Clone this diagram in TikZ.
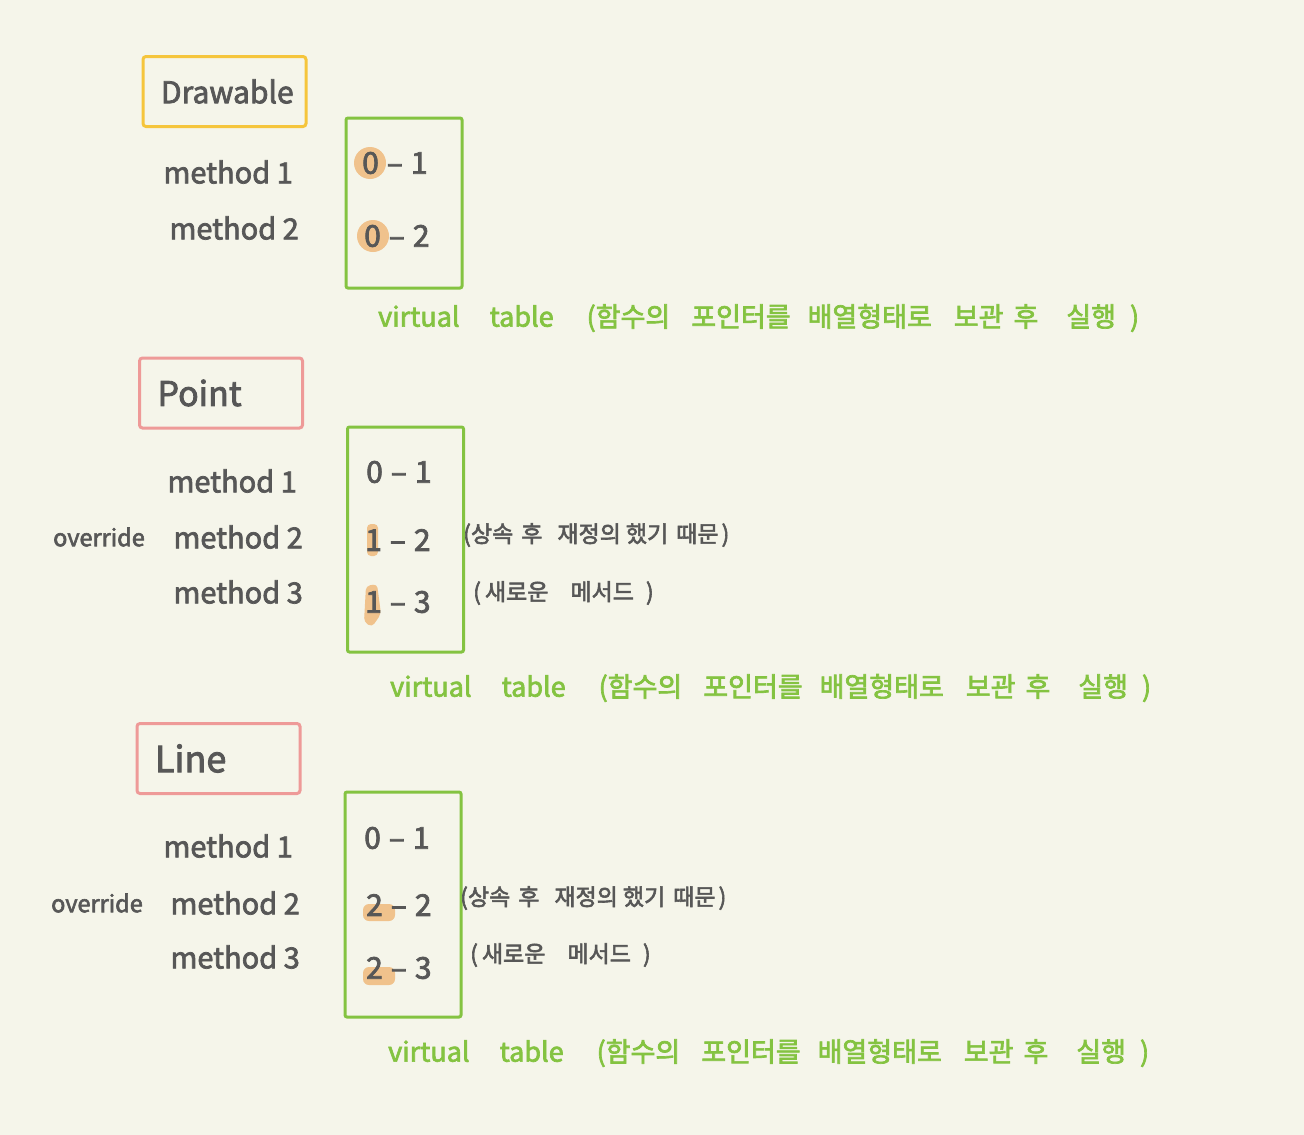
\documentclass[tikz,border=0pt]{standalone}
\usepackage{fontspec}
\setmainfont{Noto Sans CJK KR}[FakeBold=2.5]
\definecolor{bg}{HTML}{F5F5EA}
\definecolor{ink}{HTML}{575757}
\definecolor{yel}{HTML}{F5C53C}
\definecolor{pnk}{HTML}{EE9A98}
\definecolor{grn}{HTML}{84C341}
\definecolor{org}{HTML}{F0C28C}
\newcommand\vtext{virtual\hspace{30pt}table\hspace{33pt}(함수의\hspace{21pt}포인터를\hspace{17pt}배열형태로\hspace{22pt}보관\hspace{10pt}후\hspace{28pt}실행\hspace{14pt})}
\newcommand\ntwo{(상속\hspace{8pt}후\hspace{15pt}재정의\hspace{5pt}했기\hspace{8pt}때문\hspace{3pt})}
\newcommand\nthree{(\hspace{4pt}새로운\hspace{22pt}메서드\hspace{12pt})}
\newcommand\ent[2]{#1\hspace{8pt}–\hspace{8pt}#2}
\tikzset{
  cls/.style={draw=#1, line width=3pt, rounded corners=3pt, minimum height=70, inner xsep=18, text width=127, align=left, text=ink, font=\fontsize{31}{31}\selectfont},
  meth/.style={anchor=east, text=ink, inner sep=0, font=\fontsize{29}{29}\selectfont},
  ovr/.style={anchor=east, text=ink, inner sep=0, font=\fontsize{23.5}{23.5}\selectfont},
  vbox/.style={draw=grn, line width=3pt, rounded corners=2pt, minimum width=116, inner sep=0},
  entry/.style={anchor=west, text=ink, inner sep=0, font=\fontsize{30}{30}\selectfont},
  note/.style={anchor=west, text=ink, inner sep=0, font=\fontsize{23}{23}\selectfont},
  vt/.style={anchor=west, text=grn, inner sep=0, font=\fontsize{27}{27}\selectfont},
  hl/.style={fill=org}
}
\begin{document}
\begin{tikzpicture}[x=1pt,y=-1pt]
\fill[bg] (0,0) rectangle (1304,1135);
\useasboundingbox (0,0) rectangle (1304,1135);

% ---------- Drawable ----------
\node[cls=yel, font=\fontsize{30}{30}\selectfont] (drawable) at (224.5,91.5) {Drawable};
\node[meth] (d1) at (293,172) {method 1};
\node[meth] (d2) at (299,228) {method 2};
\node[vbox, minimum height=170] (dv) at (404,203) {};
\fill[hl] (370,163) circle (16);
\fill[hl] (373,236) circle (16);
\node[entry] (de1) at (362,163) {\ent{0}{1}};
\node[entry] (de2) at (364,236) {\ent{0}{2}};
\node[vt] (dvt) at (378,318) {\vtext};

% ---------- Point ----------
\node[cls=pnk, font=\fontsize{34}{34}\selectfont] (point) at (221,393) {Point};
\node[meth] (p1) at (297,481) {method 1};
\node[ovr] (po) at (145,537) {override};
\node[meth] (p2) at (303,537) {method 2};
\node[meth] (p3) at (303,592) {method 3};
\node[vbox, minimum height=225] (pv) at (405.5,539.5) {};
\fill[hl, rounded corners=4pt] (367,524) rectangle (378,556);
\fill[hl, rounded corners=4pt] (366,586) -- (377,584) -- (381,614) -- (372,627) -- (364,622) -- cycle;
\node[entry] (pe1) at (366,472) {\ent{0}{1}};
\node[entry] (pe2) at (365,540) {\ent{1}{2}};
\node[entry] (pe3) at (365,602) {\ent{1}{3}};
\node[note] (pn2) at (463,535) {\ntwo};
\node[note] (pn3) at (473,593) {\nthree};
\node[vt] (pvt) at (390,688) {\vtext};

% ---------- Line ----------
\node[cls=pnk, font=\fontsize{36}{36}\selectfont] (line) at (218.5,758.5) {Line};
\node[meth] (l1) at (293,846) {method 1};
\node[ovr] (lo) at (143,903) {override};
\node[meth] (l2) at (300,903) {method 2};
\node[meth] (l3) at (300,957) {method 3};
\node[vbox, minimum height=225] (lv) at (403,904.5) {};
\fill[hl, rounded corners=6pt] (363,904) rectangle (395,921);
\fill[hl, rounded corners=6pt] (363,967) rectangle (395,985);
\node[entry] (le1) at (364,838) {\ent{0}{1}};
\node[entry] (le2) at (366,905) {\ent{2}{2}};
\node[entry] (le3) at (366,968) {\ent{2}{3}};
\node[note] (ln2) at (460,898) {\ntwo};
\node[note] (ln3) at (470,955) {\nthree};
\node[vt] (lvt) at (388,1053) {\vtext};
\end{tikzpicture}
\end{document}
